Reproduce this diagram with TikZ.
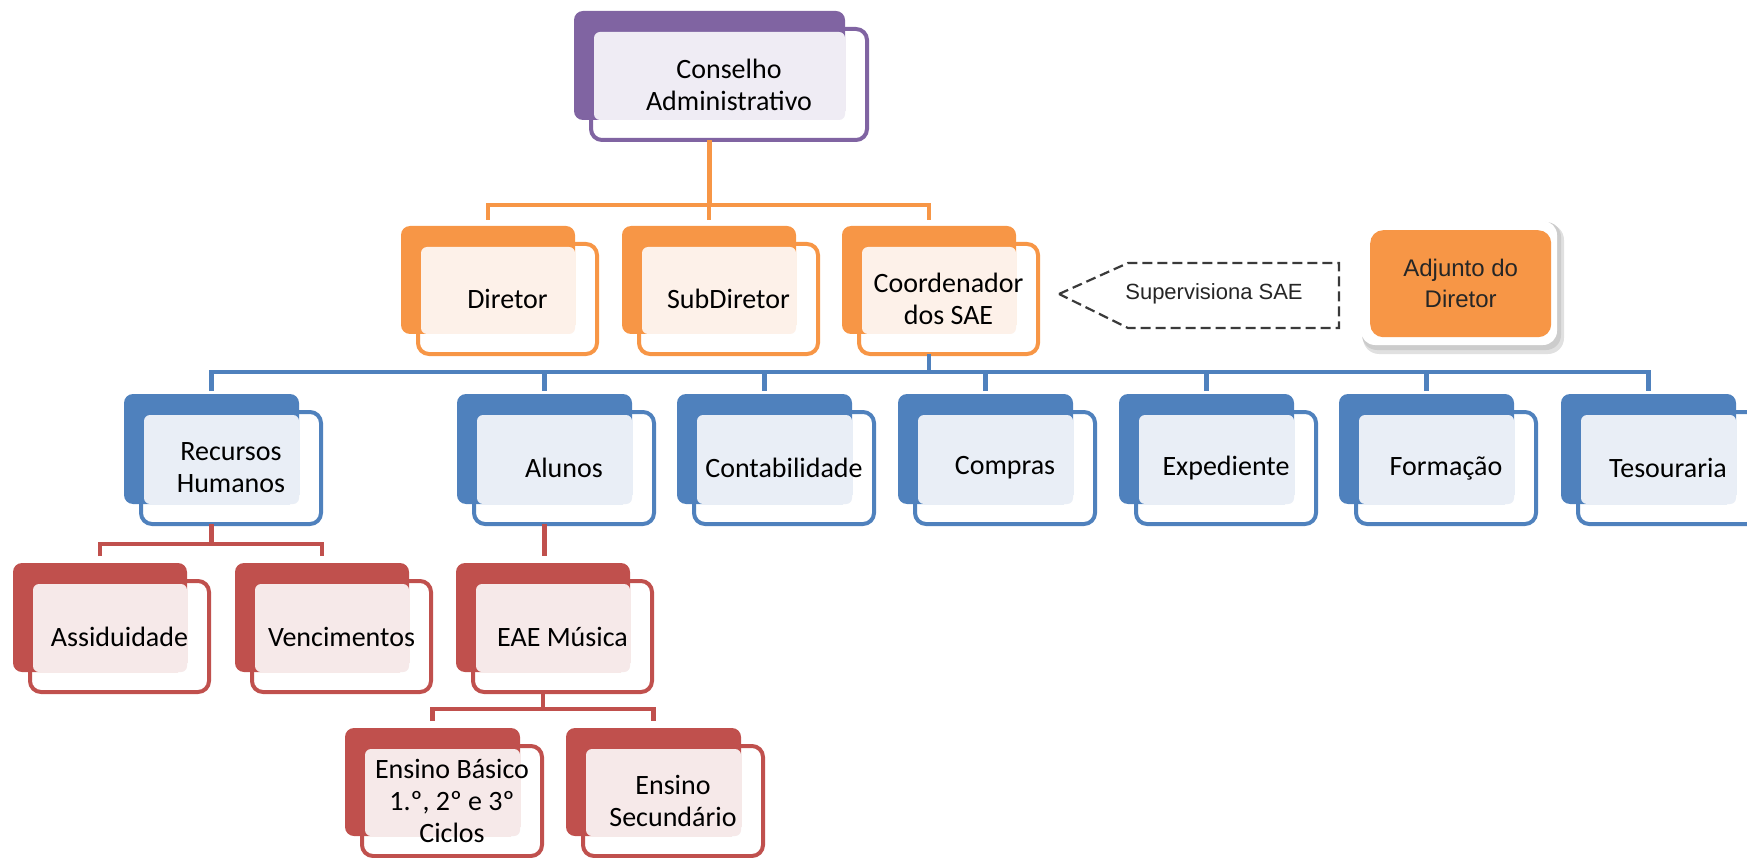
\documentclass[tikz,border=0pt]{standalone}
\usepackage{fontspec}
\setmainfont{Carlito}
\newfontfamily\callfont{Liberation Sans}
\definecolor{purp}{HTML}{8064A2}\definecolor{purpL}{HTML}{EFECF4}
\definecolor{orng}{HTML}{F79646}\definecolor{orngL}{HTML}{FDF1E9}
\definecolor{blu}{HTML}{4F81BD}\definecolor{bluL}{HTML}{E9EEF6}
\definecolor{rd}{HTML}{C0504D}\definecolor{rdL}{HTML}{F6E9E9}
\definecolor{dashc}{HTML}{3A3A3A}
\newcommand\orgbox[7]{%
  \node[outl=#6, minimum width=#4pt+5pt, minimum height=#5pt+2pt, anchor=north west] (#1o) at (#2+17,#3+18) {};
  \node[darkb=#6, minimum width=#4pt, minimum height=#5pt, anchor=north west] (#1) at (#2,#3) {};
  \fill[#6L, rounded corners=6pt] ([xshift=3pt,yshift=-3pt]#1o.north west) rectangle (#1.south east);
  \node[txt] (#1t) at (#1o.center) {#7};
}
\begin{document}
\begin{tikzpicture}[x=1pt,y=-1pt,
  outl/.style={draw=#1, line width=4pt, fill=white, rounded corners=11pt, inner sep=0pt, outer sep=0pt},
  darkb/.style={fill=#1, rounded corners=9pt, inner sep=0pt, outer sep=0pt},
  txt/.style={align=center, font=\fontsize{28}{32}\selectfont, inner sep=0pt},
  conn/.style={draw=#1, line width=4.5pt},
  calltxt/.style={font=\callfont\fontsize{22}{28}\selectfont, inner sep=0pt, text=black!85},
  adjtxt/.style={font=\callfont\fontsize{24}{31}\selectfont, align=center, inner sep=0pt, text=black!85}]
\useasboundingbox (0,0) rectangle (1747,858);
\clip (0,0) rectangle (1747,858);

\orgbox{cons}{574}{11}{271}{109}{purp}{Conselho\\Administrativo}
\orgbox{dir}{401}{226}{174}{108}{orng}{Diretor}
\orgbox{sub}{622}{226}{174}{108}{orng}{SubDiretor}
\orgbox{coord}{842}{226}{174}{108}{orng}{Coordenador\\dos SAE}
\orgbox{rh}{124}{394}{175}{110}{blu}{Recursos\\Humanos}
\orgbox{alu}{457}{394}{175}{110}{blu}{Alunos}
\orgbox{cont}{677}{394}{175}{110}{blu}{Contabilidade}
\orgbox{comp}{898}{394}{175}{110}{blu}{Compras}
\orgbox{exp}{1119}{394}{175}{110}{blu}{Expediente}
\orgbox{form}{1339}{394}{175}{110}{blu}{Formação}
\orgbox{tes}{1561}{394}{175}{110}{blu}{Tesouraria}
\orgbox{ass}{13}{563}{174}{109}{rd}{Assiduidade}
\orgbox{venc}{235}{563}{174}{109}{rd}{Vencimentos}
\orgbox{eae}{456}{563}{174}{109}{rd}{EAE Música}
\orgbox{eb}{345}{728}{175}{108}{rd}{Ensino Básico\\1.º, 2º e 3º\\Ciclos}
\orgbox{es}{566}{728}{175}{108}{rd}{Ensino\\Secundário}

% connector levels
\coordinate (bar1) at (0,205);  \coordinate (drop1) at (0,220);
\coordinate (bar2) at (0,372);  \coordinate (drop2) at (0,391);
\coordinate (bar3) at (0,544);  \coordinate (drop3) at (0,556);
\coordinate (bar4) at (0,709);  \coordinate (drop4) at (0,721);

% orange
\draw[conn=orng] (cons |- conso.south) -- (cons |- bar1);
\draw[conn=orng] (dir |- drop1) -- (dir |- bar1) -- (coord |- bar1) -- (coord |- drop1);
\draw[conn=orng] (sub |- drop1) -- (sub |- bar1);

% blue
\draw[conn=blu] (coord |- coordo.south) -- (coord |- bar2);
\draw[conn=blu] (rh |- drop2) -- (rh |- bar2) -- (tes |- bar2) -- (tes |- drop2);
\foreach \n in {alu,cont,comp,exp,form}{\draw[conn=blu] (\n |- drop2) -- (\n |- bar2);}

% red
\draw[conn=rd] (rh |- rho.south) -- (rh |- bar3);
\draw[conn=rd] (ass |- drop3) -- (ass |- bar3) -- (venc |- bar3) -- (venc |- drop3);
\draw[conn=rd] (alu |- aluo.south) -- (alu |- drop3);
\draw[conn=rd] (eae |- eaeo.south) -- (eae |- bar4);
\draw[conn=rd] (eb |- drop4) -- (eb |- bar4) -- (es |- bar4) -- (es |- drop4);

% callout
\draw[dashc, line width=2.2pt, dash pattern=on 10pt off 5pt]
  (1059,294) -- (1128,263) -- (1339,263) -- (1339,328) -- (1128,328) -- cycle;
\node[calltxt] (sup) at (1214,294) {Supervisiona SAE};

% Adjunto do Diretor
\fill[black!12, rounded corners=16pt] (1363,224) rectangle (1564,354);
\fill[black!20, rounded corners=15pt] (1362,222) rectangle (1561,350);
\fill[white, rounded corners=14pt] (1361,221) rectangle (1557,345);
\node[fill=orng, rounded corners=13pt, minimum width=181pt, minimum height=107pt, inner sep=0pt, anchor=north west] (adj) at (1370,230) {};
\node[adjtxt] (adjt) at (adj.center) {Adjunto do\\Diretor};
\end{tikzpicture}
\end{document}
